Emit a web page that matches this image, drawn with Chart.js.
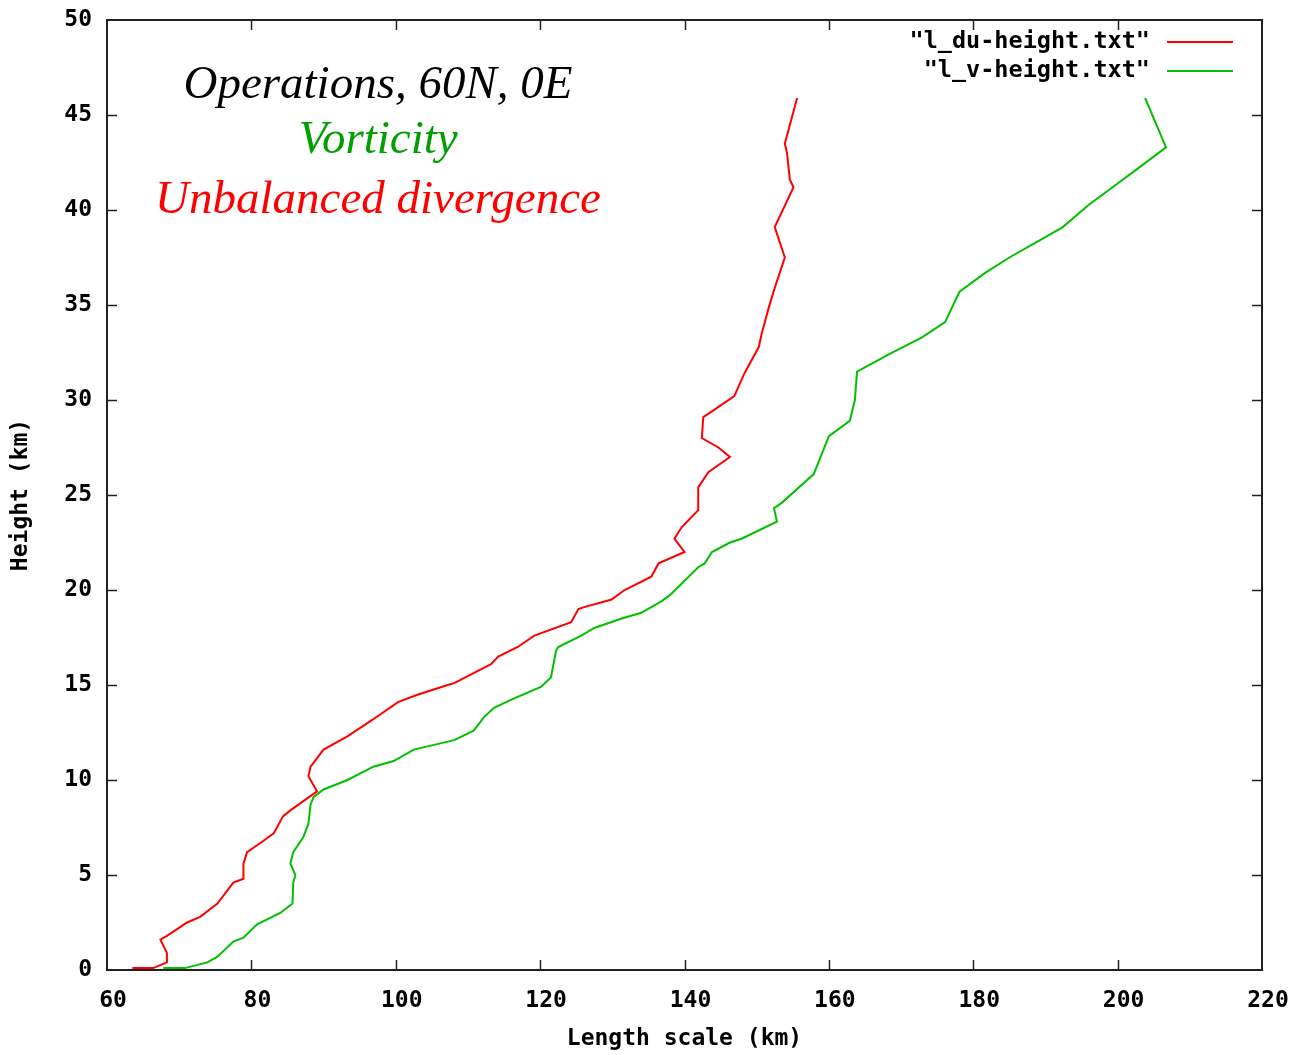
<!DOCTYPE html>
<html>
<head>
<meta charset="utf-8">
<title>Length scale vs height</title>
<script src="https://cdn.jsdelivr.net/npm/chart.js@4.4.1/dist/chart.umd.min.js"></script>
<style>
  html, body { margin: 0; padding: 0; background: #fff; }
  #wrap { width: 1290px; height: 1055px; position: relative; }
</style>
</head>
<body>
<div id="wrap"><canvas id="grafico"></canvas></div>
<script>
// datos (km)
const duLength = [63.5, 66.4, 68.3, 68.3, 67.4, 68.3, 71.1, 72.9, 75.3, 77.1, 77.5, 78.9, 78.9, 79.4, 81.3, 83.1, 84.4, 85.4, 89.1, 87.9, 88.2, 90.0, 93.3, 96.9, 100.3, 103.1, 107.2, 108.1, 113.2, 114.2, 116.9, 119.2, 124.3, 125.3, 126.1, 129.9, 131.7, 135.4, 136.4, 140.0, 138.6, 139.6, 141.9, 141.9, 143.3, 146.3, 144.7, 142.4, 142.6, 143.8, 146.9, 148.3, 150.3, 150.7, 151.7, 152.5, 153.9, 152.5, 155.1, 154.6, 154.2, 153.9, 154.4, 155.6];
const duHeight = [0.1, 0.1, 0.4, 0.9, 1.6, 1.8, 2.5, 2.8, 3.5, 4.4, 4.6, 4.8, 5.6, 6.2, 6.7, 7.2, 8.1, 8.4, 9.4, 10.2, 10.7, 11.6, 12.3, 13.2, 14.1, 14.5, 15.0, 15.1, 16.1, 16.5, 17.0, 17.6, 18.3, 19.0, 19.1, 19.5, 20.0, 20.7, 21.4, 22.0, 22.7, 23.3, 24.2, 25.4, 26.2, 27.0, 27.5, 28.0, 29.1, 29.4, 30.2, 31.4, 32.8, 33.5, 34.9, 35.9, 37.5, 39.1, 41.2, 41.6, 43.0, 43.5, 44.2, 45.9];

const vLength = [67.8, 70.8, 73.9, 75.3, 77.5, 78.9, 80.8, 84.0, 85.7, 85.8, 86.1, 85.4, 85.8, 87.2, 87.9, 88.2, 88.6, 90.0, 93.3, 96.9, 99.7, 102.5, 108.1, 110.8, 112.2, 113.6, 116.4, 120.1, 121.5, 122.2, 122.5, 125.7, 127.5, 131.3, 134.0, 136.8, 138.2, 141.9, 142.8, 143.8, 146.3, 147.9, 152.8, 152.4, 153.5, 157.9, 160.0, 162.9, 163.6, 163.9, 168.3, 172.9, 176.1, 178.1, 181.7, 185.0, 189.2, 192.4, 196.1, 199.3, 202.5, 206.7, 203.8];
const vHeight = [0.1, 0.1, 0.4, 0.7, 1.5, 1.7, 2.4, 3.0, 3.5, 4.6, 5.0, 5.6, 6.2, 7.0, 7.7, 8.7, 9.1, 9.5, 10.0, 10.7, 11.0, 11.6, 12.1, 12.6, 13.3, 13.8, 14.3, 14.9, 15.4, 16.8, 17.0, 17.6, 18.0, 18.5, 18.8, 19.4, 19.8, 21.2, 21.4, 22.0, 22.5, 22.7, 23.6, 24.3, 24.6, 26.1, 28.1, 28.9, 30.0, 31.5, 32.4, 33.3, 34.1, 35.7, 36.7, 37.5, 38.4, 39.1, 40.3, 41.2, 42.1, 43.3, 45.9];

const seriesNames = ['"l_du-height.txt"', '"l_v-height.txt"'];
const seriesColors = ['#ff0000', '#00c000'];
const notas = ['Operations, 60N, 0E', 'Vorticity', 'Unbalanced divergence'];
const notasColores = ['#000000', '#009f00', '#ff0000'];

const monoFont = { family: '"DejaVu Sans Mono", monospace', size: 23, weight: 'bold' };

function toPoints(xs, ys) {
    return xs.map((x, i) => ({ x: x, y: ys[i] }));
}

// marco, ticks hacia dentro, leyenda y textos
const decoracion = {
    id: 'decoracion',
    afterDatasetsDraw(chart) {
        const ctx = chart.ctx;
        const a = chart.chartArea;
        const xs = chart.scales.x, ys = chart.scales.y;
        ctx.save();
        ctx.strokeStyle = '#222';
        ctx.lineWidth = 1.5;
        ctx.beginPath();
        xs.ticks.forEach(t => {
            const px = Math.round(xs.getPixelForValue(t.value)) + 0.5;
            if (px > a.left + 2 && px < a.right - 2) {
                ctx.moveTo(px, a.bottom); ctx.lineTo(px, a.bottom - 10);
                ctx.moveTo(px, a.top); ctx.lineTo(px, a.top + 10);
            }
        });
        ys.ticks.forEach(t => {
            const py = Math.round(ys.getPixelForValue(t.value)) + 0.5;
            if (py > a.top + 2 && py < a.bottom - 2) {
                ctx.moveTo(a.left, py); ctx.lineTo(a.left + 10, py);
                ctx.moveTo(a.right, py); ctx.lineTo(a.right - 10, py);
            }
        });
        ctx.stroke();
        ctx.lineWidth = 2;
        ctx.strokeRect(a.left, a.top, a.right - a.left, a.bottom - a.top);

        // leyenda
        ctx.font = 'bold 23.5px "DejaVu Sans Mono", monospace';
        ctx.textAlign = 'right';
        ctx.textBaseline = 'middle';
        seriesNames.forEach((n, i) => {
            const y = 42 + i * 29;
            ctx.fillStyle = '#000';
            ctx.fillText(n, 1150, y);
            ctx.strokeStyle = seriesColors[i];
            ctx.lineWidth = 2;
            ctx.beginPath();
            ctx.moveTo(1167, y); ctx.lineTo(1233, y);
            ctx.stroke();
        });

        // anotaciones
        ctx.font = 'italic 47px "Liberation Serif", "DejaVu Serif", serif';
        ctx.textAlign = 'center';
        ctx.textBaseline = 'alphabetic';
        const bases = [98, 153, 213];
        notas.forEach((t, i) => {
            ctx.fillStyle = notasColores[i];
            ctx.fillText(t, 378, bases[i]);
        });
        ctx.restore();
    }
};

const ctx = document.getElementById('grafico').getContext('2d');
new Chart(ctx, {
    type: 'scatter',
    data: {
        datasets: [{
            label: seriesNames[0],
            data: toPoints(duLength, duHeight),
            borderColor: seriesColors[0],
            backgroundColor: seriesColors[0],
            showLine: true,
            borderWidth: 2,
            pointRadius: 0,
            tension: 0
        }, {
            label: seriesNames[1],
            data: toPoints(vLength, vHeight),
            borderColor: seriesColors[1],
            backgroundColor: seriesColors[1],
            showLine: true,
            borderWidth: 2,
            pointRadius: 0,
            tension: 0
        }]
    },
    options: {
        responsive: true,
        maintainAspectRatio: false,
        animation: false,
        layout: { padding: { top: 20, right: 28, left: 0, bottom: 0 } },
        plugins: {
            legend: { display: false },
            title: { display: false },
            tooltip: { enabled: false }
        },
        scales: {
            x: {
                type: 'linear',
                min: 60,
                max: 220,
                afterFit: s => { s.height = 85; s.paddingLeft = 0; s.paddingRight = 0; },
                grid: { display: false, drawTicks: false },
                border: { display: false },
                ticks: { stepSize: 20, color: '#000', font: monoFont, padding: 17, labelOffset: 6, maxRotation: 0 },
                title: { display: true, text: 'Length scale (km)', color: '#000', font: monoFont, padding: { top: 0, bottom: 2 } }
            },
            y: {
                type: 'linear',
                min: 0,
                max: 50,
                afterFit: s => { s.width = 107; s.paddingTop = 0; s.paddingBottom = 0; },
                grid: { display: false, drawTicks: false },
                border: { display: false },
                ticks: { stepSize: 5, color: '#000', font: monoFont, padding: 15 },
                title: { display: true, text: 'Height (km)', color: '#000', font: monoFont, padding: { top: 7, bottom: 0 } }
            }
        }
    },
    plugins: [decoracion]
});
</script>
</body>
</html>
